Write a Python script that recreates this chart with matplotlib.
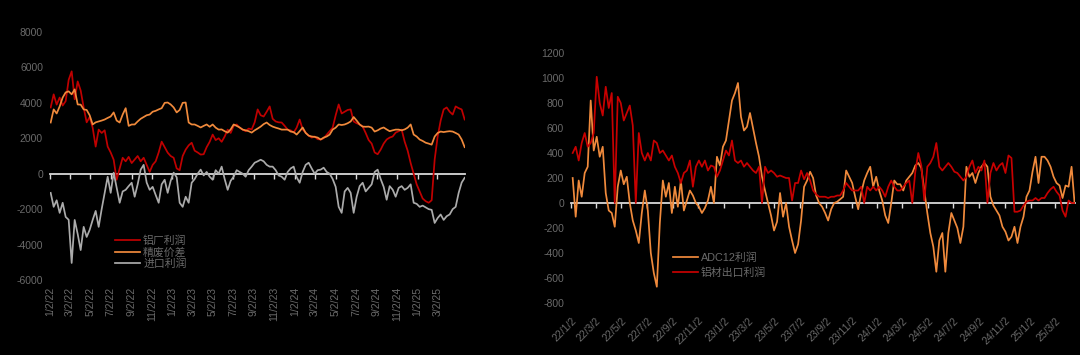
import numpy as np
import pandas as pd
import matplotlib
matplotlib.use('Agg')
import matplotlib.pyplot as plt
import matplotlib.dates as mdates

plt.rcParams['font.family'] = ['Liberation Sans', 'Noto Sans CJK SC']
plt.rcParams['axes.unicode_minus'] = False

# ---------------- Left panel data ----------------
left_start, left_end = '2022-01-04', '2025-05-22'
left_xlim = ('2022-01-02', '2025-05-23')
left_names = ['铝厂利润', '精废价差', '进口利润']

smelter_profit = [
    3740, 4480, 3900, 4300, 3850, 4100, 5300, 5780, 4200, 5210, 4700, 3740, 2900, 3200, 2600, 1530,
    2490, 2300, 2450, 1530, 1200, 790, -340, 300, 900, 700, 950, 600, 800, 1000, 700, 900,
    500, 100, 500, 700, 1200, 1810, 1500, 1190, 1000, 900, 300, 200, 1000, 1360, 1600, 1750,
    1300, 1200, 1080, 1100, 1500, 1800, 2210, 1900, 2000, 1800, 2100, 2490, 2300, 2700, 2780, 2600,
    2490, 2400, 2550, 2500, 2900, 3630, 3300, 3230, 3500, 3800, 3100, 2950, 2900, 2890, 2700, 2490,
    2450, 2320, 2600, 3060, 2500, 2320, 2150, 2040, 2100, 1950, 1930, 2000, 2200, 2400, 2600, 3300,
    3910, 3400, 3500, 3600, 3630, 2950, 2850, 2780, 2660, 2300, 1900, 1700, 1200, 1100, 1360, 1700,
    1930, 2040, 2100, 2320, 2400, 2490, 1810, 1300, 600, 0, -600, -1000, -1400, -1550, -1640, -1500,
    800, 2100, 3000, 3630, 3740, 3500, 3340, 3800, 3700, 3630, 3060,
]
scrap_spread = [
    2890, 3630, 3400, 3800, 4300, 4590, 4650, 4480, 4760, 3910, 3900, 3630, 3600, 3300, 2780, 2900,
    2950, 3000, 3060, 3150, 3230, 3460, 3000, 2890, 3340, 3700, 2700, 2780, 2780, 2950, 3100, 3200,
    3300, 3340, 3500, 3550, 3630, 3700, 4000, 4020, 3910, 3740, 3460, 3600, 4000, 4020, 2890, 2780,
    2780, 2700, 2610, 2700, 2780, 2650, 2780, 2600, 2490, 2500, 2400, 2320, 2500, 2780, 2700, 2610,
    2490, 2450, 2400, 2320, 2450, 2550, 2660, 2800, 2890, 2750, 2660, 2600, 2550, 2490, 2490, 2490,
    2380, 2350, 2210, 2400, 2610, 2300, 2150, 2100, 2080, 2040, 1930, 2040, 2100, 2210, 2490, 2600,
    2780, 2750, 2780, 2850, 2950, 3200, 3000, 2780, 2660, 2650, 2660, 2600, 2380, 2450, 2550, 2610,
    2500, 2400, 2450, 2490, 2490, 2450, 2500, 2600, 2780, 2210, 2100, 1930, 1850, 1750, 1700, 1640,
    2100, 2300, 2380, 2350, 2380, 2400, 2380, 2300, 2210, 1930, 1500,
]
import_profit = [
    -1080, -1870, -1500, -2210, -1640, -2440, -2600, -5040, -2610, -3400, -4310, -3000, -3570, -3170, -2610, -2100,
    -3000, -2000, -1080, -170, -1080, 60, -800, -1640, -1000, -910, -700, -510, -1300, -600, 230, 500,
    -500, -910, -740, -1200, -1640, -600, -340, -1080, -400, 60, -200, -1640, -1870, -1300, -1640, -510,
    -300, 0, 230, -100, 100, -170, -340, 200, 0, 400, -300, -910, -400, -170, 200, 100,
    0, -170, 200, 400, 620, 700, 790, 700, 500, 400, 400, 200, -100, -170, -340, 100,
    300, 400, -200, -510, 100, 500, 620, 300, 0, 200, 230, 340, 100, 0, -300, -740,
    -1870, -2210, -1000, -800, -1080, -2210, -1300, -700, -510, -1000, -800, -600, 100, 230, -300, -740,
    -1470, -700, -900, -1300, -800, -700, -910, -800, -600, -1640, -1700, -1870, -1800, -1900, -2000, -2040,
    -2780, -2500, -2300, -2610, -2400, -2300, -2000, -1870, -1080, -500, -230,
]
left_series = [smelter_profit, scrap_spread, import_profit]
left_colors = ['#C00000', '#F08A3C', '#ABABAB']
left_ticklabels = ['1/2/22', '3/2/22', '5/2/22', '7/2/22', '9/2/22', '11/2/22', '1/2/23', '3/2/23',
                   '5/2/23', '7/2/23', '9/2/23', '11/2/23', '1/2/24', '3/2/24', '5/2/24', '7/2/24',
                   '9/2/24', '11/2/24', '1/2/25', '3/2/25']
left_yticks = [-6000, -4000, -2000, 0, 2000, 4000, 6000, 8000]

# ---------------- Right panel data ----------------
right_start, right_end = '2022-01-06', '2025-04-17'
right_xlim = ('2022-01-02', '2025-04-18')
right_names = ['ADC12利润', '铝材出口利润']

adc12_profit = [
    200, -110, 180, 50, 240, 290, 820, 420, 530, 370, 450, 80, -60, -80, -190, 130,
    260, 150, 210, 0, -140, -220, -320, -80, 100, -60, -400, -560, -670, -160, 180, 50,
    160, -80, 130, -30, 180, -60, 20, 100, 60, 0, -30, -80, -40, 20, 130, 0,
    370, 300, 450, 500, 660, 820, 880, 960, 690, 580, 610, 720, 600, 480, 370, 210,
    100, 0, -100, -220, -150, 80, -110, 0, -190, -300, -400, -330, -140, 130, 180, 250,
    200, 60, 0, -30, -80, -140, -50, 0, 10, 30, 50, 260, 210, 160, 50, -50,
    80, 180, 240, 290, 130, 210, 100, 20, -100, -160, 0, 180, 150, 150, 100, 180,
    210, 240, 300, 320, 280, 100, -80, -240, -350, -550, -300, -240, -550, -240, -80, -140,
    -200, -320, -190, 290, 210, 240, 160, 240, 290, 320, 290, 50, -20, -60, -100, -190,
    -230, -300, -270, -190, -320, -190, -110, 50, 100, 250, 370, 160, 370, 370, 340, 290,
    210, 160, 140, 40, 140, 130, 290, 0,
]
export_profit = [
    400, 450, 340, 480, 560, 450, 480, 560, 1010, 800, 700, 930, 760, 880, 0, 850,
    800, 660, 720, 780, 620, 0, 560, 400, 340, 400, 340, 500, 480, 400, 420, 380,
    340, 380, 290, 240, 160, 240, 260, 340, 130, 290, 340, 290, 340, 260, 300, 290,
    210, 260, 340, 420, 380, 500, 340, 320, 340, 290, 320, 290, 260, 240, 290, 0,
    290, 240, 260, 240, 210, 220, 210, 200, 200, 20, 160, 160, 260, 190, 240, 180,
    100, 70, 50, 50, 50, 40, 50, 50, 60, 60, 100, 160, 130, 100, 100, 100,
    130, 0, 130, 100, 130, 100, 130, 100, 50, 130, 180, 130, 100, 100, 130, 160,
    180, 0, 250, 400, 300, 20, 290, 320, 370, 480, 290, 260, 290, 320, 290, 250,
    240, 210, 180, 210, 290, 340, 240, 290, 260, 340, 0, 240, 320, 260, 300, 320,
    240, 380, 360, -70, -70, -60, -20, 10, 20, 20, 40, 20, 40, 40, 80, 110,
    130, 90, 60, -60, -110, 20, 0, 0,
]
right_series = [adc12_profit, export_profit]
right_colors = ['#F08A3C', '#C80000']
right_ticklabels = ['22/1/2', '22/3/2', '22/5/2', '22/7/2', '22/9/2', '22/11/2', '23/1/2', '23/3/2',
                    '23/5/2', '23/7/2', '23/9/2', '23/11/2', '24/1/2', '24/3/2', '24/5/2', '24/7/2',
                    '24/9/2', '24/11/2', '25/1/2', '25/3/2']
right_yticks = [-800, -600, -400, -200, 0, 200, 400, 600, 800, 1000, 1200]

TXT = '#6a6a6a'
AXIS = '#D9D9D9'

fig = plt.figure(figsize=(10.8, 3.55), dpi=100, facecolor='black')


def draw_panel(rect, series, names, colors, start, end, xlim, ticklabels, yticks,
               rotation, label_pad):
    ax = fig.add_axes(rect)
    ax.set_facecolor('black')
    lines = []
    for vals, name, col in zip(series, names, colors):
        dates = pd.date_range(start, end, periods=len(vals))
        ln, = ax.plot(dates, vals, color=col, lw=1.25, label=name, zorder=3)
        lines.append(ln)
    ax.set_xlim(pd.Timestamp(xlim[0]), pd.Timestamp(xlim[1]))
    ax.set_ylim(yticks[0], yticks[-1])
    for s in ax.spines.values():
        s.set_visible(False)
    tick_dates = pd.date_range('2022-01-02', periods=len(ticklabels), freq=pd.DateOffset(months=2))
    ax.set_xticks(tick_dates)
    if rotation == 90:
        ax.set_xticklabels(ticklabels, rotation=90, ha='center', va='top')
    else:
        ax.set_xticklabels(ticklabels, rotation=rotation, ha='right', va='top',
                           rotation_mode='anchor')
    ax.set_yticks(yticks)
    ax.set_yticklabels([str(v) for v in yticks])
    ax.tick_params(axis='x', length=0, pad=label_pad, labelsize=7.5, labelcolor=TXT)
    ax.tick_params(axis='y', length=0, pad=5, labelsize=7.5, labelcolor=TXT)
    # zero axis line with tick marks
    frac = (0 - yticks[0]) / (yticks[-1] - yticks[0])
    sec = ax.secondary_xaxis(frac)
    sec.set_xticks(mdates.date2num(tick_dates))
    sec.tick_params(axis='x', direction='out', length=3.5, width=1, color=AXIS,
                    labelbottom=False, labeltop=False)
    sec.spines['bottom'].set_color(AXIS)
    sec.spines['bottom'].set_linewidth(1.3)
    sec.spines['top'].set_visible(False)
    sec.patch.set_visible(False)
    return ax, lines


axL, linesL = draw_panel([50 / 1080, 1 - 280 / 355, 415 / 1080, 248 / 355],
                         left_series, left_names, left_colors, left_start, left_end,
                         left_xlim, left_ticklabels, left_yticks, 90, 5)
axR, linesR = draw_panel([571 / 1080, 1 - 303 / 355, 504 / 1080, 250 / 355],
                         right_series, right_names, right_colors, right_start, right_end,
                         right_xlim, right_ticklabels, right_yticks, 45, 9)

fig.legend(handles=linesL, labels=left_names, loc='upper left',
           bbox_to_anchor=(115 / 1080, 1 - 235 / 355), frameon=False, borderpad=0,
           borderaxespad=0, handlelength=2.3, handletextpad=0.3, labelspacing=0.12,
           prop={'size': 7.8}, labelcolor=TXT)
fig.legend(handles=linesR, labels=right_names, loc='upper left',
           bbox_to_anchor=(673 / 1080, 1 - 252 / 355), frameon=False, borderpad=0,
           borderaxespad=0, handlelength=2.3, handletextpad=0.3, labelspacing=0.45,
           prop={'size': 7.8}, labelcolor=TXT)

fig.savefig('out.png', dpi=100, facecolor='black')
